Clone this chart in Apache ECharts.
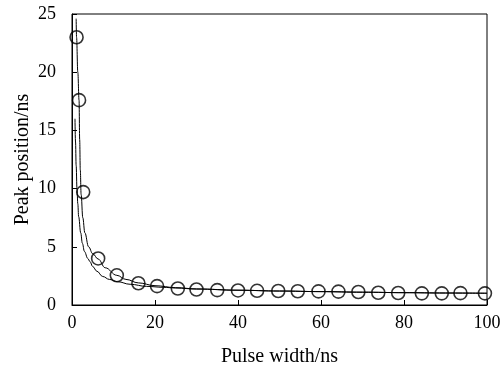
<!DOCTYPE html>
<html>
<head>
<meta charset="utf-8">
<script src="https://cdn.jsdelivr.net/npm/echarts@6/dist/echarts.min.js"></script>
<style>
  html, body { margin: 0; padding: 0; background: #fff; }
  #chart { width: 503px; height: 367px; }
</style>
</head>
<body>
<div id="chart"></div>
<script>
// measured peak positions (circles)
const measured = [
  [1.1, 23], [1.7, 17.6], [2.7, 9.7], [6.3, 4.0], [10.8, 2.55], [16, 1.87],
  [20.5, 1.62], [25.5, 1.42], [30, 1.33], [35, 1.28], [40, 1.25], [44.6, 1.22],
  [49.7, 1.2], [54.4, 1.18], [59.4, 1.17], [64.2, 1.15], [69, 1.12],
  [73.8, 1.05], [78.6, 1.03], [84.3, 1.0], [89.1, 1.0], [93.6, 1.02], [99.5, 1.0]
]
// outer fitted curve
const curveA = [
  [1.0, 24.6], [1.1, 23], [1.4, 20], [1.7, 17.6], [1.85, 14.2], [2.0, 11.6],
  [2.2, 9.5], [2.6, 7.5], [3.1, 6.2], [4.0, 5.0], [5.0, 4.4], [6.3, 3.95],
  [8, 3.2], [10.8, 2.55], [13, 2.2], [16, 1.9], [20, 1.66], [25, 1.49],
  [30, 1.38], [40, 1.27], [50, 1.2], [60, 1.15], [70, 1.1], [80, 1.06],
  [90, 1.03], [100, 1.01]
]
// inner fitted curve
const curveB = [
  [0.72, 16], [0.85, 14], [1.0, 12], [1.2, 10], [1.4, 8.7], [1.6, 7.6],
  [2.1, 6.2], [2.5, 5.3], [3.0, 4.6], [3.8, 4.0], [4.3, 3.75], [5.0, 3.3],
  [6.0, 2.9], [7.4, 2.45], [9, 2.2], [11, 2.0], [14, 1.78], [18, 1.6],
  [22, 1.52], [25, 1.46], [30, 1.37], [40, 1.27], [50, 1.2], [60, 1.15],
  [70, 1.1], [80, 1.06], [90, 1.03], [100, 1.01]
]
const xTicks = [0, 100, 20]
const yTicks = [0, 25, 5]

const font = 'Liberation Serif'
const chart = echarts.init(document.getElementById('chart'))

chart.setOption({
  animation: false,
  backgroundColor: '#fff',
  grid: {
    left: 72,
    right: 16,
    top: 14,
    bottom: 62,
    outerBoundsMode: 'none',
    containLabel: false,
    show: true,
    borderColor: '#000',
    borderWidth: 1
  },
  xAxis: {
    type: 'value',
    min: xTicks[0],
    max: xTicks[1],
    interval: xTicks[2],
    name: 'Pulse width/ns',
    nameLocation: 'middle',
    nameGap: 42,
    nameMoveOverlap: false,
    nameTextStyle: { fontFamily: font, fontSize: 20, color: '#000' },
    axisLine: { lineStyle: { color: '#000', width: 1 } },
    axisTick: { inside: true, length: 5, lineStyle: { color: '#000' } },
    axisLabel: { fontFamily: font, fontSize: 18, color: '#000', margin: 9 },
    splitLine: { show: false }
  },
  yAxis: {
    type: 'value',
    min: yTicks[0],
    max: yTicks[1],
    interval: yTicks[2],
    name: 'Peak position/ns',
    nameLocation: 'middle',
    nameGap: 39,
    nameMoveOverlap: false,
    nameTextStyle: { fontFamily: font, fontSize: 20, color: '#000' },
    axisLine: { lineStyle: { color: '#000', width: 1 } },
    axisTick: { inside: true, length: 5, lineStyle: { color: '#000' } },
    axisLabel: { fontFamily: font, fontSize: 18, color: '#000', margin: 16 },
    splitLine: { show: false }
  },
  series: [
    {
      type: 'line',
      data: curveA,
      smooth: 0.4,
      smoothMonotone: 'x',
      showSymbol: false,
      lineStyle: { color: '#000', width: 1 },
      z: 2
    },
    {
      type: 'line',
      data: curveB,
      smooth: 0.4,
      smoothMonotone: 'x',
      showSymbol: false,
      lineStyle: { color: '#000', width: 1 },
      z: 2
    },
    {
      type: 'scatter',
      data: measured,
      symbol: 'circle',
      symbolSize: 13,
      itemStyle: { color: 'rgba(0,0,0,0)', borderColor: '#000', borderWidth: 1.6 },
      z: 3
    }
  ]
})
</script>
</body>
</html>
